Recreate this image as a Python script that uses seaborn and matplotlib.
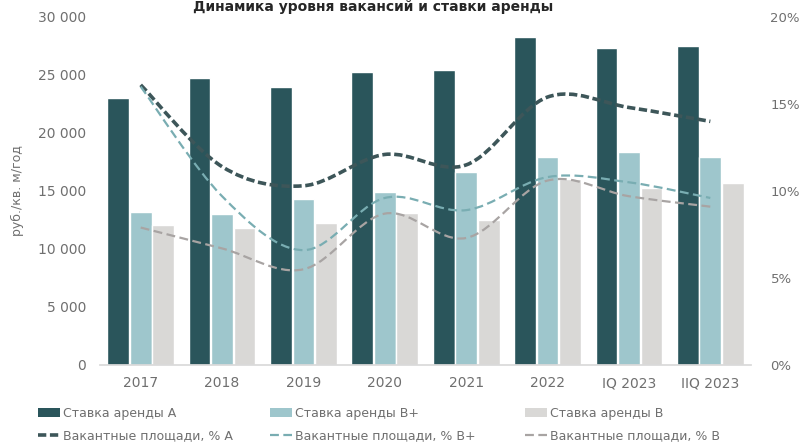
import matplotlib
matplotlib.use("Agg")
import matplotlib.pyplot as plt
import seaborn as sns
import pandas as pd
import numpy as np
from matplotlib.path import Path
from matplotlib.patches import PathPatch, Patch
from matplotlib.lines import Line2D
from matplotlib.ticker import FuncFormatter, MultipleLocator

# ---- data ----
categories = ['2017', '2018', '2019', '2020', '2021', '2022', 'IQ 2023', 'IIQ 2023']
rent_a = [23000, 24700, 24000, 25300, 25400, 28300, 27300, 27500]
rent_bp = [13200, 13000, 14300, 14900, 16600, 17900, 18400, 17900]
rent_b = [12100, 11800, 12200, 13100, 12500, 16000, 15300, 15700]
vac_a = [16.1, 11.4, 10.3, 12.1, 11.5, 15.4, 14.8, 14.0]
vac_bp = [16.0, 9.7, 6.6, 9.6, 8.9, 10.8, 10.5, 9.6]
vac_b = [7.9, 6.7, 5.5, 8.7, 7.3, 10.6, 9.7, 9.1]

bar_labels = ['Ставка аренды А', 'Ставка аренды В+', 'Ставка аренды В']
line_labels = ['Вакантные площади, % А', 'Вакантные площади, % В+', 'Вакантные площади, % В']
title = 'Динамика уровня вакансий и ставки аренды'
ylabel = 'руб./кв. м/год'

bar_colors = ['#2a555b', '#9ec6cc', '#d9d8d6']
line_colors = ['#3d5659', '#79adb2', '#a8a4a3']
text_grey = '#6f6f6f'

sns.set_theme(style='white')
plt.rcParams['font.family'] = ['DejaVu Sans']

df = pd.DataFrame({
    'cat': categories * 3,
    'val': rent_a + rent_bp + rent_b,
    'series': [bar_labels[0]] * 8 + [bar_labels[1]] * 8 + [bar_labels[2]] * 8,
})

fig = plt.figure(figsize=(8.05, 4.47), dpi=100)
ax = fig.add_axes([100 / 805, 1 - 365 / 447, 651 / 805, 348 / 447])

sns.barplot(data=df, x='cat', y='val', hue='series', order=categories,
            hue_order=bar_labels, palette=bar_colors, width=0.83, gap=0.03,
            saturation=1, legend=False, ax=ax)

ax.set_ylim(0, 30000)
ax.yaxis.set_major_locator(MultipleLocator(5000))
ax.yaxis.set_major_formatter(FuncFormatter(lambda v, p: f"{int(v):,}".replace(',', ' ')))
ax.set_xlabel('')
ax.set_ylabel(ylabel, fontsize=9, color=text_grey, labelpad=10)
ax.tick_params(axis='y', labelsize=10, colors=text_grey, pad=10, length=0)
ax.tick_params(axis='x', labelsize=10, colors=text_grey, pad=8, length=0)
for s in ['top', 'right', 'left']:
    ax.spines[s].set_visible(False)
ax.spines['bottom'].set_color('#d9d9d9')

ax2 = ax.twinx()
ax2.set_ylim(0, 20)
ax2.yaxis.set_major_locator(MultipleLocator(5))
ax2.yaxis.set_major_formatter(FuncFormatter(lambda v, p: f"{int(v)}%"))
ax2.tick_params(axis='y', labelsize=9.5, colors=text_grey, pad=14, length=0)
for s in ['top', 'right', 'left', 'bottom']:
    ax2.spines[s].set_visible(False)
ax2.grid(False)
ax.grid(False)


def smooth_path(xs, ys):
    pts = np.column_stack([xs, ys]).astype(float)
    n = len(pts)
    verts = [pts[0]]
    codes = [Path.MOVETO]
    for i in range(n - 1):
        p0 = pts[i - 1] if i > 0 else pts[i]
        p1 = pts[i]
        p2 = pts[i + 1]
        p3 = pts[i + 2] if i + 2 < n else pts[i + 1]
        c1 = p1 + (p2 - p0) / 6.0
        c2 = p2 - (p3 - p1) / 6.0
        verts += [c1, c2, p2]
        codes += [Path.CURVE4] * 3
    return Path(verts, codes)


xpos = np.arange(len(categories))
line_specs = [(vac_a, line_colors[0], 2.6, (0, (2.3, 1.0))),
              (vac_bp, line_colors[1], 1.6, (0, (4, 2))),
              (vac_b, line_colors[2], 1.6, (0, (4, 2)))]
for vals, col, lw, ls in line_specs:
    patch = PathPatch(smooth_path(xpos, vals), facecolor='none', edgecolor=col,
                      lw=lw, linestyle=ls, transform=ax2.transData, capstyle='butt')
    ax2.add_patch(patch)

fig.text(373 / 805, 1 - 11 / 447, title, ha='center', va='baseline',
         fontsize=10, fontweight='bold', color='#262626')

legend_x = [29 / 805, 261 / 805, 516 / 805]
for i in range(3):
    handles = [Patch(facecolor=bar_colors[i], edgecolor='none'),
               Line2D([], [], color=line_colors[i], lw=line_specs[i][2], linestyle=line_specs[i][3])]
    fig.legend(handles=handles, labels=[bar_labels[i], line_labels[i]],
               loc='upper left', bbox_to_anchor=(legend_x[i], 1 - 398 / 447),
               frameon=False, fontsize=9, labelcolor=text_grey, handlelength=1.8,
               handletextpad=0.2, labelspacing=0.75, borderpad=0.2)

fig.savefig('out.png', dpi=100)
